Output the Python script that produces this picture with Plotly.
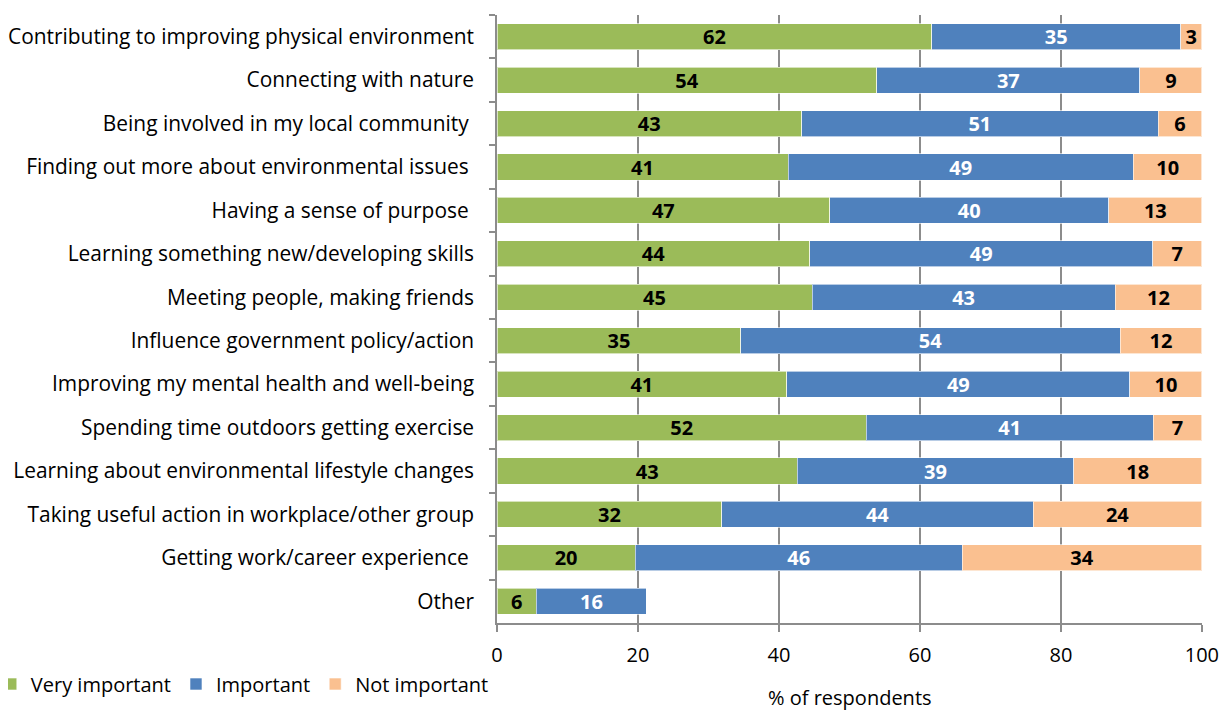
import plotly.graph_objects as go

categories = [
    "Contributing to improving physical environment",
    "Connecting with nature",
    "Being involved in my local community\u00a0",
    "Finding out more about environmental issues\u00a0",
    "Having a sense of purpose\u00a0",
    "Learning something new/developing skills",
    "Meeting people, making friends",
    "Influence government policy/action",
    "Improving my mental health and well-being",
    "Spending time outdoors getting exercise",
    "Learning about environmental lifestyle changes",
    "Taking useful action in workplace/other group",
    "Getting work/career experience\u00a0",
    "Other",
]
very_important = [61.7, 53.9, 43.2, 41.3, 47.2, 44.4, 44.7, 34.6, 41.1, 52.4, 42.6, 31.9, 19.6, 5.6]
important = [35.3, 37.3, 50.6, 49.0, 39.6, 48.6, 43.0, 53.8, 48.7, 40.7, 39.2, 44.2, 46.4, 15.6]
not_important = [3.0, 8.8, 6.2, 9.7, 13.2, 7.0, 12.3, 11.6, 10.2, 6.9, 18.2, 23.9, 34.0, None]

series = [
    ("Very important", very_important, "#9BBB59", "black"),
    ("Important", important, "#4F81BD", "white"),
    ("Not important", not_important, "#FAC090", "black"),
]

FONT = "Open Sans"
FS = 20
# the page body has an 8px default margin; compensate so the plot lands where the reference has it
OFF = 8
fig = go.Figure()
for name, vals, color, tcolor in series:
    fig.add_trace(go.Bar(
        y=categories, x=vals, name=name, orientation="h",
        marker=dict(color=color, line=dict(color="rgba(255,255,255,0.6)", width=1)),
        texttemplate="%{x:.0f}", textposition="inside", insidetextanchor="middle",
        textangle=0,
        textfont=dict(family=FONT, size=FS, color=tcolor, weight="bold"),
        constraintext="none", cliponaxis=False,
    ))

fig.add_annotation(text="% of respondents", xref="paper", yref="paper",
                   x=0.5, y=-74 / 608, xanchor="center", yanchor="middle",
                   showarrow=False, font=dict(family=FONT, size=FS, color="black"))

fig.update_layout(
    barmode="stack", bargap=0.4,
    width=1228 - OFF, height=711 - OFF,
    margin=dict(l=497 - OFF, r=26, t=15 - OFF, b=88, autoexpand=False),
    plot_bgcolor="white", paper_bgcolor="white",
    font=dict(family=FONT, size=FS, color="black"),
    uniformtext=dict(minsize=FS, mode="show"),
    legend=dict(orientation="h", xref="paper", yref="container",
                x=-0.718, y=1 - (684 - OFF) / (711 - OFF), xanchor="left", yanchor="middle",
                font=dict(family=FONT, size=20), traceorder="normal",
                tracegroupgap=0),
    xaxis=dict(range=[0, 100.02], tickvals=[0, 20, 40, 60, 80, 100],
               showgrid=True, gridcolor="#8C8C8C", gridwidth=1.5,
               showline=True, linecolor="#8C8C8C", linewidth=1.5,
               ticks="outside", ticklen=7, tickcolor="#8C8C8C", tickwidth=1.5,
               zeroline=False, automargin=False, ticklabelstandoff=6,
               tickfont=dict(size=FS)),
    yaxis=dict(autorange="reversed", showline=True, linecolor="#8C8C8C", linewidth=1.5,
               ticks="outside", ticklen=6, tickcolor="#8C8C8C", tickwidth=1.5,
               tickson="boundaries", showgrid=False, ticklabelstandoff=17,
               automargin=False, tickfont=dict(size=20.9)),
)

fig.write_html("out.html")
